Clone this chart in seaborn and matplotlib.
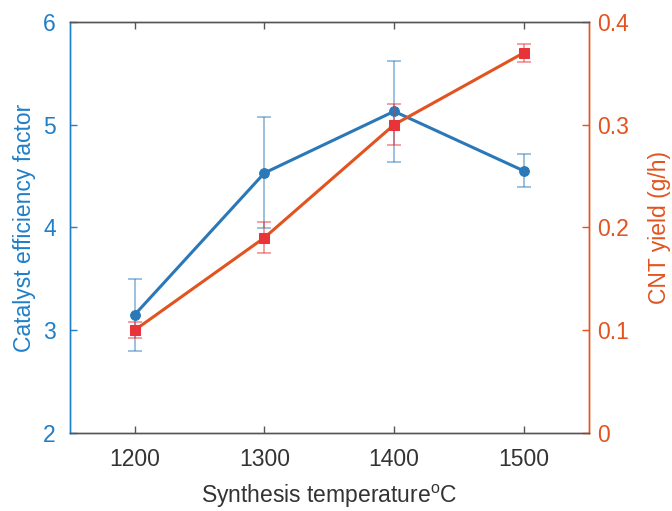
import matplotlib
matplotlib.use("Agg")
import matplotlib.pyplot as plt
import seaborn as sns
import pandas as pd

# Synthesis temperature (°C)
temperature = [1200, 1300, 1400, 1500]
# Catalyst efficiency factor with standard deviation
efficiency = [3.15, 4.53, 5.13, 4.55]
efficiency_err = [0.35, 0.54, 0.49, 0.16]
# CNT yield (g/h) with standard deviation
cnt_yield = [0.100, 0.190, 0.300, 0.370]
cnt_yield_err = [0.008, 0.015, 0.020, 0.009]

x_ticks = [1200, 1300, 1400, 1500]
left_ticks = [2, 3, 4, 5, 6]
right_ticks = [0, 0.1, 0.2, 0.3, 0.4]
right_ticklabels = ["0", "0.1", "0.2", "0.3", "0.4"]

sns.set_theme(style="white")
plt.rcParams["font.family"] = ["Liberation Sans", "DejaVu Sans"]
plt.rcParams["mathtext.default"] = "regular"

BLUE = "#2a78b8"
BLUE_TXT = "#1f7fc8"
ORANGE = "#e2531f"
RED = "#e8333a"
GREY = "#333333"

df = pd.DataFrame({"T": temperature, "eff": efficiency, "yield": cnt_yield})

fig = plt.figure(figsize=(6.72, 5.11), dpi=100)
ax = fig.add_axes([0.104, 0.153, 0.772, 0.804])
ax2 = ax.twinx()

# efficiency factor (left axis)
ax.errorbar(temperature, efficiency, yerr=efficiency_err, fmt="none",
            ecolor=BLUE, elinewidth=1.2, capsize=5, capthick=1.2, alpha=0.55, zorder=2)
sns.lineplot(data=df, x="T", y="eff", ax=ax, color=BLUE, lw=2.2,
             marker="o", markersize=7, markeredgecolor=BLUE, zorder=3)

# CNT yield (right axis)
ax2.errorbar(temperature, cnt_yield, yerr=cnt_yield_err, fmt="none",
             ecolor=RED, elinewidth=1.2, capsize=5, capthick=1.2, alpha=0.55, zorder=2)
sns.lineplot(data=df, x="T", y="yield", ax=ax2, color=ORANGE, lw=2.2,
             marker="s", markersize=6.5, markerfacecolor=RED, markeredgecolor=RED, zorder=3)

ax.set_xlim(1150, 1550)
ax.set_ylim(2, 6)
ax2.set_ylim(0, 0.4)
ax.set_xticks(x_ticks)
ax.set_yticks(left_ticks)
ax2.set_yticks(right_ticks)
ax2.set_yticklabels(right_ticklabels)

fs = 16.5
lfs = 16.5
ax.set_xlabel("Synthesis temperature$^{o}$C", fontsize=lfs, color=GREY)
ax.set_ylabel("Catalyst efficiency factor", fontsize=lfs, color=BLUE_TXT)
ax2.set_ylabel("CNT yield (g/h)", fontsize=lfs, color=ORANGE)
ax.xaxis.set_label_coords(0.5, -0.122)
ax.yaxis.set_label_coords(-0.066, 0.5)
ax2.yaxis.set_label_coords(1.114, 0.5)

ax.tick_params(axis="x", direction="in", length=5, width=1, colors="#555555",
               labelcolor=GREY, labelsize=fs, pad=11, top=True, bottom=True)
ax.tick_params(axis="y", direction="in", length=5, width=1, colors=BLUE_TXT,
               labelsize=fs, pad=10, left=True, right=False)
ax2.tick_params(axis="y", direction="in", length=5, width=1, colors=ORANGE,
                labelsize=fs, pad=6, right=True, left=False)

for a in (ax, ax2):
    a.spines["top"].set_color("#555555")
    a.spines["bottom"].set_color("#555555")
    a.spines["left"].set_color(BLUE_TXT)
    a.spines["right"].set_color(ORANGE)
    for s in a.spines.values():
        s.set_linewidth(1.0)
ax2.set_xlabel("")

fig.savefig("out.png", dpi=100)
